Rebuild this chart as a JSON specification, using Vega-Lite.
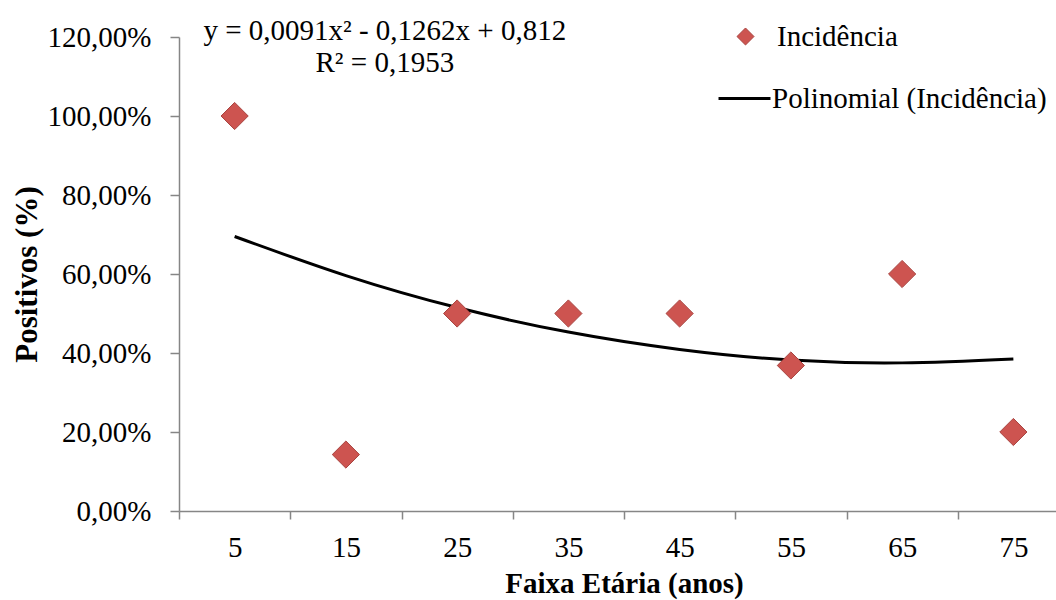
{
  "$schema": "https://vega.github.io/schema/vega-lite/v6.json",
  "width": 890,
  "height": 474,
  "autosize": {"type": "none"},
  "padding": {"left": 179, "top": 37, "right": 0, "bottom": 89},
  "background": "white",
  "config": {"view": {"stroke": null}, "font": "Liberation Serif"},
  "data": {"values": [
    {"faixa": 5, "incidencia": 1.0, "tendencia": 0.695},
    {"faixa": 15, "incidencia": 0.1429, "tendencia": 0.596},
    {"faixa": 25, "incidencia": 0.5, "tendencia": 0.515},
    {"faixa": 35, "incidencia": 0.5, "tendencia": 0.453},
    {"faixa": 45, "incidencia": 0.5, "tendencia": 0.409},
    {"faixa": 55, "incidencia": 0.3684, "tendencia": 0.382},
    {"faixa": 65, "incidencia": 0.6, "tendencia": 0.375},
    {"faixa": 75, "incidencia": 0.2, "tendencia": 0.385}
  ]},
  "resolve": {"scale": {"color": "independent"}, "legend": {"color": "independent"}},
  "layer": [
    {
      "mark": {"type": "line", "strokeWidth": 3, "interpolate": "natural", "clip": false},
      "encoding": {
        "x": {
          "field": "faixa", "type": "quantitative",
          "scale": {"domain": [0, 80], "nice": false, "zero": false},
          "axis": {
            "values": [0, 5, 10, 15, 20, 25, 30, 35, 40, 45, 50, 55, 60, 65, 70, 75, 80],
            "labelExpr": "datum.value % 10 == 5 ? '' + datum.value : ''",
            "tickOpacity": {"condition": {"test": "datum.value % 10 == 5", "value": 0}, "value": 1},
            "tickSize": 8, "tickColor": "#868686", "domainColor": "#868686", "domainWidth": 1.5, "tickWidth": 1.5,
            "labelFont": "Liberation Serif", "labelFontSize": 29, "labelColor": "black", "labelPadding": 14,
            "labelFlush": false, "labelOverlap": false, "grid": false,
            "title": "Faixa Etária (anos)", "titleFont": "Liberation Serif", "titleFontSize": 29,
            "titleFontWeight": "bold", "titleColor": "black", "titlePadding": 7
          }
        },
        "y": {
          "field": "tendencia", "type": "quantitative",
          "scale": {"domain": [0, 1.2], "nice": false},
          "axis": {
            "values": [0, 0.2, 0.4, 0.6, 0.8, 1.0, 1.2],
            "labelExpr": "replace(format(datum.value, '.2%'), '.', ',')",
            "tickSize": 9, "tickColor": "#868686", "domainColor": "#868686", "domainWidth": 1.5, "tickWidth": 1.5,
            "labelFont": "Liberation Serif", "labelFontSize": 29, "labelColor": "black", "labelPadding": 19,
            "labelFlush": false, "labelOverlap": false, "grid": false,
            "title": "Positivos (%)", "titleFont": "Liberation Serif", "titleFontSize": 31,
            "titleFontWeight": "bold", "titleColor": "black", "titlePadding": 4
          }
        },
        "color": {
          "datum": "Polinomial (Incidência)",
          "scale": {"domain": ["Polinomial (Incidência)"], "range": ["#000000"]},
          "legend": {
            "title": null, "orient": "none", "legendX": 538, "legendY": 34, "padding": 0,
            "labelFont": "Liberation Serif", "labelFontSize": 29, "labelColor": "black", "labelOffset": 0,
            "labelLimit": 0, "symbolType": "stroke", "symbolSize": 2700, "symbolStrokeWidth": 3,
            "symbolStrokeColor": "#000000", "symbolOpacity": 1
          }
        }
      }
    },
    {
      "mark": {"type": "point", "filled": true, "shape": "diamond", "size": 740, "stroke": "#a84440", "strokeWidth": 1, "opacity": 1, "clip": false},
      "encoding": {
        "x": {"field": "faixa", "type": "quantitative"},
        "y": {"field": "incidencia", "type": "quantitative"},
        "color": {
          "datum": "Incidência",
          "scale": {"domain": ["Incidência"], "range": ["#cd5450"]},
          "legend": {
            "title": null, "orient": "none", "legendX": 552, "legendY": -15, "padding": 0,
            "labelFont": "Liberation Serif", "labelFontSize": 29, "labelColor": "black", "labelOffset": 17,
            "labelLimit": 0, "symbolType": "diamond", "symbolSize": 290, "symbolStrokeWidth": 1,
            "symbolStrokeColor": "#a84440", "symbolFillColor": "#cd5450", "symbolOpacity": 1
          }
        }
      }
    },
    {
      "data": {"values": [{"eq": "y = 0,0091x² - 0,1262x + 0,812"}]},
      "mark": {"type": "text", "font": "Liberation Serif", "fontSize": 29, "color": "black", "align": "center", "baseline": "top", "lineHeight": 32, "clip": false, "text": ["y = 0,0091x² - 0,1262x + 0,812", "R² = 0,1953"]},
      "encoding": {
        "x": {"datum": 18.5, "type": "quantitative"},
        "y": {"datum": 1.25, "type": "quantitative"}
      }
    }
  ]
}
